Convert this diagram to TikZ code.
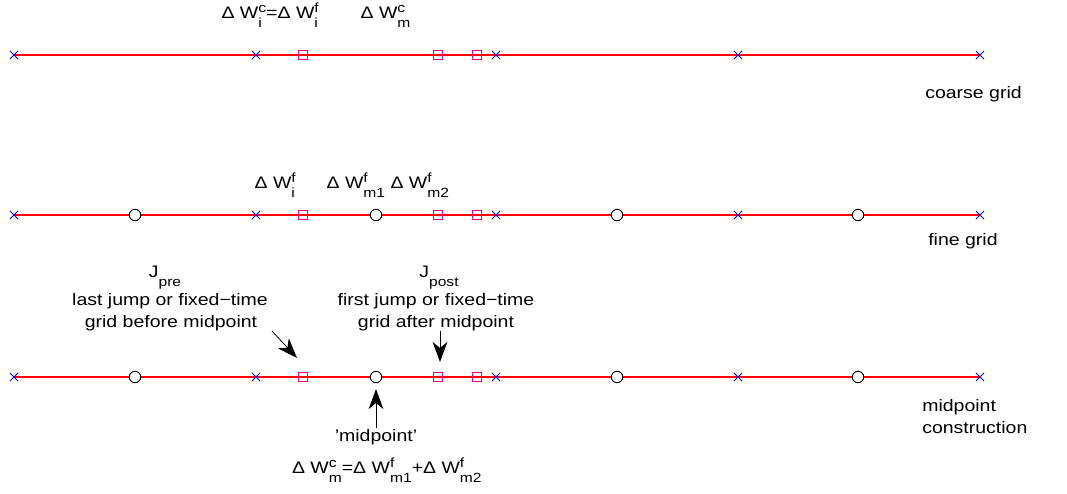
\documentclass[tikz,border=0pt]{standalone}
\usepackage{fontspec}
\setmainfont{Liberation Sans}[FakeStretch=1.17]
\usetikzlibrary{arrows.meta,shapes.misc}
\newlength\ssA \newlength\ssB
\newcommand\subfnt{\fontsize{10}{12}\selectfont}
\newcommand\SupSub[2]{{\subfnt\settowidth\ssA{#1}\settowidth\ssB{#2}\ifdim\ssB>\ssA\ssA=\ssB\fi\rlap{\raisebox{4pt}{#1}}\rlap{\raisebox{-7pt}{#2}}\hspace{\ssA}}}
\newcommand\SubOnly[1]{{\subfnt\raisebox{-7pt}{#1}}}
\newcommand\DW[2]{Δ W\SupSub{#1}{#2}}
\tikzset{
  gridline/.style={draw=red, line width=1.5pt},
  xmk/.style={cross out, draw=blue, line width=0.7pt, minimum size=5.4pt, inner sep=0pt},
  smk/.style={rectangle, draw=magenta, line width=0.7pt, minimum size=6.8pt, inner sep=0pt},
  cmk/.style={circle, draw=black, fill=white, line width=0.7pt, minimum size=8.6pt, inner sep=0pt},
  lbl/.style={anchor=base, inner sep=0pt, font=\fontsize{12.5}{15}\selectfont},
  lbll/.style={anchor=base west, inner sep=0pt, font=\fontsize{12.5}{15}\selectfont},
  arr/.style={-{Stealth[length=15pt, width=11pt, inset=4.5pt]}, line width=0.6pt, black},
}
\begin{document}
\begin{tikzpicture}[x=0.75pt, y=-0.75pt]
\useasboundingbox (0,0) rectangle (1067,493);
% grid lines
\foreach \r/\yy in {1/55, 2/215, 3/377} {
  \coordinate (L\r) at (14,\yy);
  \coordinate (R\r) at (980,\yy);
  \draw[gridline] (L\r) -- (R\r);
}
% markers
\foreach \r/\yy in {1/55, 2/215, 3/377} {
  \foreach \xx [count=\k] in {14,256,496,738,980}
    \node[xmk] (x\r-\k) at (\xx,\yy) {};
  \foreach \xx [count=\k] in {303,438,477}
    \node[smk] (s\r-\k) at (\xx,\yy) {};
}
\foreach \r/\yy in {2/215, 3/377} {
  \foreach \xx [count=\k] in {135,376,617,858}
    \node[cmk] (c\r-\k) at (\xx,\yy) {};
}
% coarse grid labels
\node[lbl] (tA) at (268,18) {\DW{c}{i}=\DW{f}{i}};
\node[lbl] (tB) at (379,18) {\DW{c}{m}};
\node[lbll] (tC) at (925,98) {coarse grid};
% fine grid labels
\node[lbl] (fA) at (273,188) {\DW{f}{i}};
\node[lbl] (fB) at (377,188) {\DW{f}{m1} \DW{f}{m2}};
\node[lbll] (fC) at (928,245) {fine grid};
% midpoint construction labels
\node[lbl] (pJ) at (165,277) {J\SubOnly{pre}};
\node[lbl] (pA) at (170,305) {last jump or fixed−time};
\node[lbl] (pB) at (171,327) {grid before midpoint};
\node[lbl] (qJ) at (439,277) {J\SubOnly{post}};
\node[lbl] (qA) at (436,305) {first jump or fixed−time};
\node[lbl] (qB) at (436,327) {grid after midpoint};
\node[lbl] (mA) at (376,441) {'midpoint'};
\node[lbl] (mB) at (376,473) {\DW{c}{m}=\DW{f}{m1}+\DW{f}{m2}};
\node[lbll] (mC) at (922,411) {midpoint};
\node[lbll] (mD) at (922,433) {construction};
% arrows
\coordinate (a1t) at (272,331);
\coordinate (a1h) at (297,358);
\coordinate (a2t) at (440,331);
\coordinate (a2h) at (440,362);
\coordinate (a3t) at (376,428);
\coordinate (a3h) at (376,389);
\draw[arr] (a1t) -- (a1h);
\draw[arr] (a2t) -- (a2h);
\draw[arr] (a3t) -- (a3h);
\end{tikzpicture}
\end{document}
